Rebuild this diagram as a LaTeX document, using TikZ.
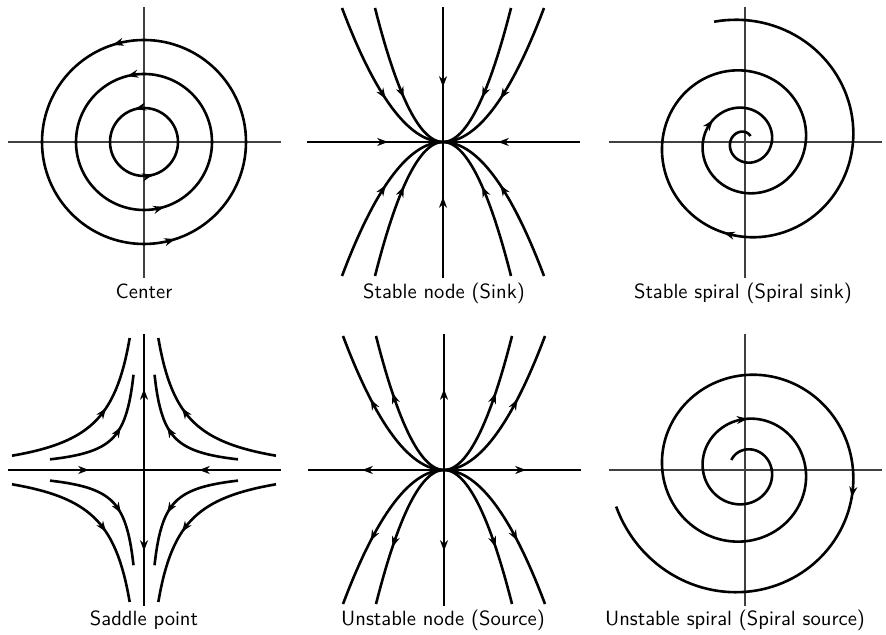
\documentclass[tikz,border=0pt]{standalone}
\usetikzlibrary{arrows.meta}
\tikzset{
  traj/.style ={line width=1.3pt},
  axis/.style ={line width=0.6pt,draw=black!75},
  tip/.style  ={-{Stealth[length=5.4pt,width=4pt,inset=1.7pt]},line width=1.3pt},
  lbl/.style  ={anchor=base,inner sep=0pt,font=\sffamily\fontsize{10.3}{12}\selectfont},
}

\begin{document}
\begin{tikzpicture}[x=0.5pt,y=0.5pt,
  declare function={rsp(\s)=108-53.9*\s+6.64*\s*\s;}]
\useasboundingbox (0,0) rectangle (886,635);
\coordinate (O1) at (144,493);
\coordinate (O2) at (443,493);
\coordinate (O3) at (745,493);
\coordinate (O4) at (144,165);
\coordinate (O5) at (444,165);
\coordinate (O6) at (745,165);

% center
\begin{scope}[shift={(O1)}]
  \draw[axis] (-136,0) -- (137,0);
  \draw[axis] (0,-136) -- (0,135);
  \foreach \r in {34,68,102} \draw[traj] (0,0) circle (\r);
  \foreach \r/\a in {102/105,68/100,34/97,102/-75,68/-77,34/-83}
    \draw[tip] ({\a+286/\r-3}:\r) -- ({\a+286/\r}:\r);
\end{scope}

% stable node
\begin{scope}[shift={(O2)}]
  \draw[traj] (-136,0) -- (137,0);
  \draw[traj] (0,-136) -- (0,135);
  \foreach \w in {68,101}{
    \draw[traj] plot[domain=-\w:\w,samples=61] (\x,{134*(\x/\w)^2});
    \draw[traj] plot[domain=-\w:\w,samples=61] (\x,{-134*(\x/\w)^2});
  }
  \foreach \w/\xa/\xb in {101/60/57.3,68/41/39.1}
    \foreach \sx in {-1,1}
      \foreach \sy in {-1,1}
        \draw[tip] ({\sx*\xa},{\sy*134*(\xa/\w)^2}) -- ({\sx*\xb},{\sy*134*(\xb/\w)^2});
  \draw[tip] (-62,0) -- (-55,0);
  \draw[tip] (62,0) -- (55,0);
  \draw[tip] (0,62) -- (0,55);
  \draw[tip] (0,-62) -- (0,-55);
\end{scope}

% stable spiral
\begin{scope}[shift={(O3)}]
  \draw[axis] (-136,0) -- (137,0);
  \draw[axis] (0,-136) -- (0,135);
  \draw[traj] plot[domain=-0.29:2.875,samples=400,variable=\s] ({-360*\s}:{rsp(\s)});
  \draw[tip] ({-360*1.575}:{rsp(1.575)}) -- ({-360*1.595}:{rsp(1.595)});
  \draw[tip] ({-360*0.278}:{rsp(0.278)}) -- ({-360*0.2865}:{rsp(0.2865)});
\end{scope}

% saddle point
\begin{scope}[shift={(O4)}]
  \draw[traj] (-136,0) -- (137,0);
  \draw[traj] (0,-136) -- (0,136);
  \foreach \sx in {-1,1}
    \foreach \sy in {-1,1}{
      \draw[traj] plot[domain=14.3:132,samples=60] ({\sx*\x},{\sy*(3450/(\x+10)-10)});
      \draw[traj] plot[domain=10.5:94,samples=60] ({\sx*\x},{\sy*1000/\x});
      \draw[tip] ({\sx*41},{\sy*(3450/51-10)}) -- ({\sx*38},{\sy*(3450/48-10)});
      \draw[tip] ({\sx*26},{\sy*1000/26}) -- ({\sx*23.2},{\sy*1000/23.2});
    }
  \draw[tip] (-62,0) -- (-55,0);
  \draw[tip] (62,0) -- (55,0);
  \draw[tip] (0,74) -- (0,81);
  \draw[tip] (0,-74) -- (0,-81);
\end{scope}

% unstable node
\begin{scope}[shift={(O5)}]
  \draw[traj] (-136,0) -- (137,0);
  \draw[traj] (0,-136) -- (0,136);
  \foreach \w in {68,101}{
    \draw[traj] plot[domain=-\w:\w,samples=61] (\x,{134*(\x/\w)^2});
    \draw[traj] plot[domain=-\w:\w,samples=61] (\x,{-134*(\x/\w)^2});
  }
  \foreach \w/\xa/\xb in {101/71/73.4,68/50/51.6}
    \foreach \sx in {-1,1}
      \foreach \sy in {-1,1}
        \draw[tip] ({\sx*\xa},{\sy*134*(\xa/\w)^2}) -- ({\sx*\xb},{\sy*134*(\xb/\w)^2});
  \draw[tip] (-75,0) -- (-82,0);
  \draw[tip] (75,0) -- (82,0);
  \draw[tip] (0,74) -- (0,81);
  \draw[tip] (0,-74) -- (0,-81);
\end{scope}

% unstable spiral
\begin{scope}[shift={(O6)}]
  \draw[axis] (-136,0) -- (137,0);
  \draw[axis] (0,-136) -- (0,136);
  \draw[traj] plot[domain=-0.456:2.4,samples=400,variable=\s] ({360*\s}:{rsp(\s)});
  \draw[tip] ({360*1.258}:{rsp(1.258)}) -- ({360*1.242}:{rsp(1.242)});
  \draw[tip] ({360*(-0.033)}:{rsp(-0.033)}) -- ({360*(-0.040)}:{rsp(-0.040)});
\end{scope}

\node[lbl] (capCenter)  at (144,336) {Center};
\node[lbl] (capSink)    at (444,336) {Stable node (Sink)};
\node[lbl] (capSpSink)  at (743,336) {Stable spiral (Spiral sink)};
\node[lbl] (capSaddle)  at (144,9) {Saddle point};
\node[lbl] (capSource)  at (443,9) {Unstable node (Source)};
\node[lbl] (capSpSrc)   at (735,9) {Unstable spiral (Spiral source)};
\end{tikzpicture}
\end{document}
